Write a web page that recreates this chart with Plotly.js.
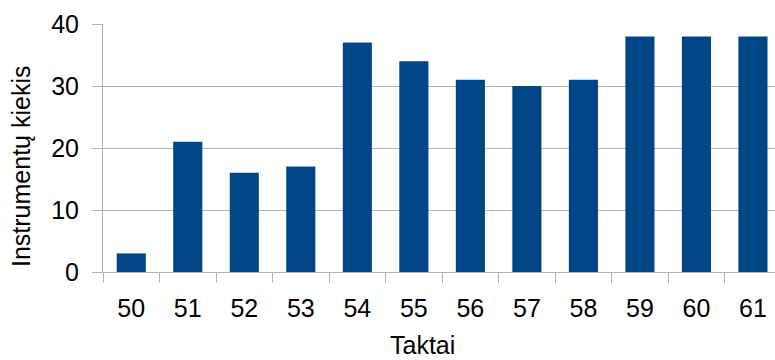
<!DOCTYPE html>
<html>
<head>
<meta charset="utf-8">
<script src="https://cdn.plot.ly/plotly-3.0.1.min.js"></script>
<style>html,body{margin:0;padding:0;background:#fff;}#chart{width:775px;height:360px;}</style>
</head>
<body>
<div id="chart"></div>
<script>
const categories = ["50","51","52","53","54","55","56","57","58","59","60","61"];
const values = [3, 21, 16, 17, 37, 34, 31, 30, 31, 38, 38, 38];
const xTitle = "Taktai";
const yTitle = "Instrumentų kiekis";

const tickFont = {family: "'Liberation Sans', Arial, sans-serif", size: 25, color: "#000"};
const titleFont = {family: "'Liberation Sans', Arial, sans-serif", size: 25, color: "#000"};
const grey = "#b3b3b3";

Plotly.newPlot("chart", [{
  type: "bar",
  x: categories,
  y: values,
  marker: {color: "#004586"},
  hoverinfo: "x+y"
}], {
  width: 775, height: 360,
  margin: {l: 103, r: 0, t: 24, b: 88},
  paper_bgcolor: "#fff", plot_bgcolor: "#fff",
  bargap: 0.485,
  showlegend: false,
  font: tickFont,
  xaxis: {
    type: "category",
    range: [-0.5, 11.39],
    tickson: "boundaries",
    ticks: "outside", ticklen: 10, tickcolor: grey, tickwidth: 1,
    showgrid: false,
    showline: true, linecolor: grey, linewidth: 1,
    tickfont: tickFont,
    ticklabelstandoff: 14,
    zeroline: false
  },
  yaxis: {
    range: [0, 40],
    dtick: 10,
    ticks: "outside", ticklen: 10, tickcolor: grey, tickwidth: 1,
    showgrid: true, gridcolor: grey, gridwidth: 1,
    showline: true, linecolor: grey, linewidth: 1,
    zeroline: false,
    tickfont: tickFont,
    ticklabelstandoff: 8
  },
  annotations: [
    {text: xTitle, xref: "paper", yref: "paper", x: (422-103)/672, y: -(360-272)/248,
     xanchor: "center", yanchor: "bottom", showarrow: false, font: titleFont, borderpad: 0},
    {text: yTitle, xref: "paper", yref: "paper", x: -(103-21)/672, y: (272-167)/248,
     xanchor: "center", yanchor: "middle", showarrow: false, textangle: -90, font: titleFont}
  ]
}, {displayModeBar: false, staticPlot: true});
</script>
</body>
</html>
